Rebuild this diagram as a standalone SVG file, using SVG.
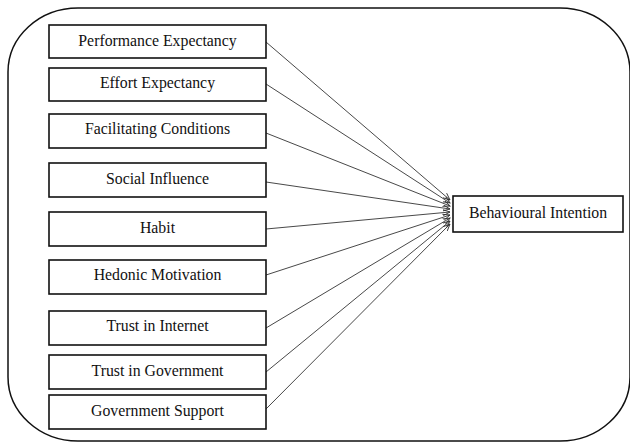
<svg xmlns="http://www.w3.org/2000/svg" width="630" height="443" viewBox="0 0 630 443">
  <style>
    .box { fill: #fff; stroke: #111; stroke-width: 1.6; }
    .lbl { font-family: "Liberation Serif", "Times New Roman", serif; font-size: 15.8px; fill: #111; text-anchor: middle; }
    .edge { stroke: #333; stroke-width: 0.9; fill: none; marker-end: url(#arr); }
  </style>
  <defs>
    <marker id="arr" markerWidth="8" markerHeight="8" refX="7" refY="4" orient="auto" markerUnits="userSpaceOnUse">
      <path d="M0,1 L7,4 L0,7" fill="none" stroke="#333" stroke-width="0.9"/>
    </marker>
  </defs>
  <rect width="630" height="443" fill="#fff"/>
  <!-- outer frame -->
  <rect x="8" y="8" width="622" height="433" rx="70" ry="64" fill="none" stroke="#111" stroke-width="1.5"/>

  <g id="connectors">
    <line class="edge" x1="266" y1="42" x2="450" y2="200"/>
    <line class="edge" x1="266" y1="84" x2="450" y2="203"/>
    <line class="edge" x1="266" y1="133" x2="450" y2="206"/>
    <line class="edge" x1="266" y1="182" x2="450" y2="209"/>
    <line class="edge" x1="266" y1="229" x2="450" y2="212"/>
    <line class="edge" x1="266" y1="275" x2="450" y2="215"/>
    <line class="edge" x1="266" y1="328" x2="450" y2="218"/>
    <line class="edge" x1="266" y1="372" x2="450" y2="221"/>
    <line class="edge" x1="266" y1="409" x2="450" y2="224"/>
  </g>

  <g id="performance-expectancy">
    <rect class="box" x="49" y="25" width="217" height="33"/>
    <text class="lbl" x="157.5" y="46">Performance Expectancy</text>
  </g>
  <g id="effort-expectancy">
    <rect class="box" x="49" y="68" width="217" height="33"/>
    <text class="lbl" x="157.5" y="88">Effort Expectancy</text>
  </g>
  <g id="facilitating-conditions">
    <rect class="box" x="49" y="114" width="217" height="34"/>
    <text class="lbl" x="157.5" y="134">Facilitating Conditions</text>
  </g>
  <g id="social-influence">
    <rect class="box" x="49" y="163" width="217" height="34"/>
    <text class="lbl" x="157.5" y="184">Social Influence</text>
  </g>
  <g id="habit">
    <rect class="box" x="49" y="212" width="217" height="34"/>
    <text class="lbl" x="157.5" y="233">Habit</text>
  </g>
  <g id="hedonic-motivation">
    <rect class="box" x="49" y="260" width="217" height="34"/>
    <text class="lbl" x="157.5" y="280">Hedonic Motivation</text>
  </g>
  <g id="trust-in-internet">
    <rect class="box" x="49" y="311" width="217" height="34"/>
    <text class="lbl" x="157.5" y="331">Trust in Internet</text>
  </g>
  <g id="trust-in-government">
    <rect class="box" x="49" y="355" width="217" height="34"/>
    <text class="lbl" x="157.5" y="376">Trust in Government</text>
  </g>
  <g id="government-support">
    <rect class="box" x="49" y="395" width="217" height="34"/>
    <text class="lbl" x="157.5" y="416">Government Support</text>
  </g>
  <g id="behavioural-intention">
    <rect class="box" x="453" y="196" width="170" height="36"/>
    <text class="lbl" x="538" y="218">Behavioural Intention</text>
  </g>
</svg>
